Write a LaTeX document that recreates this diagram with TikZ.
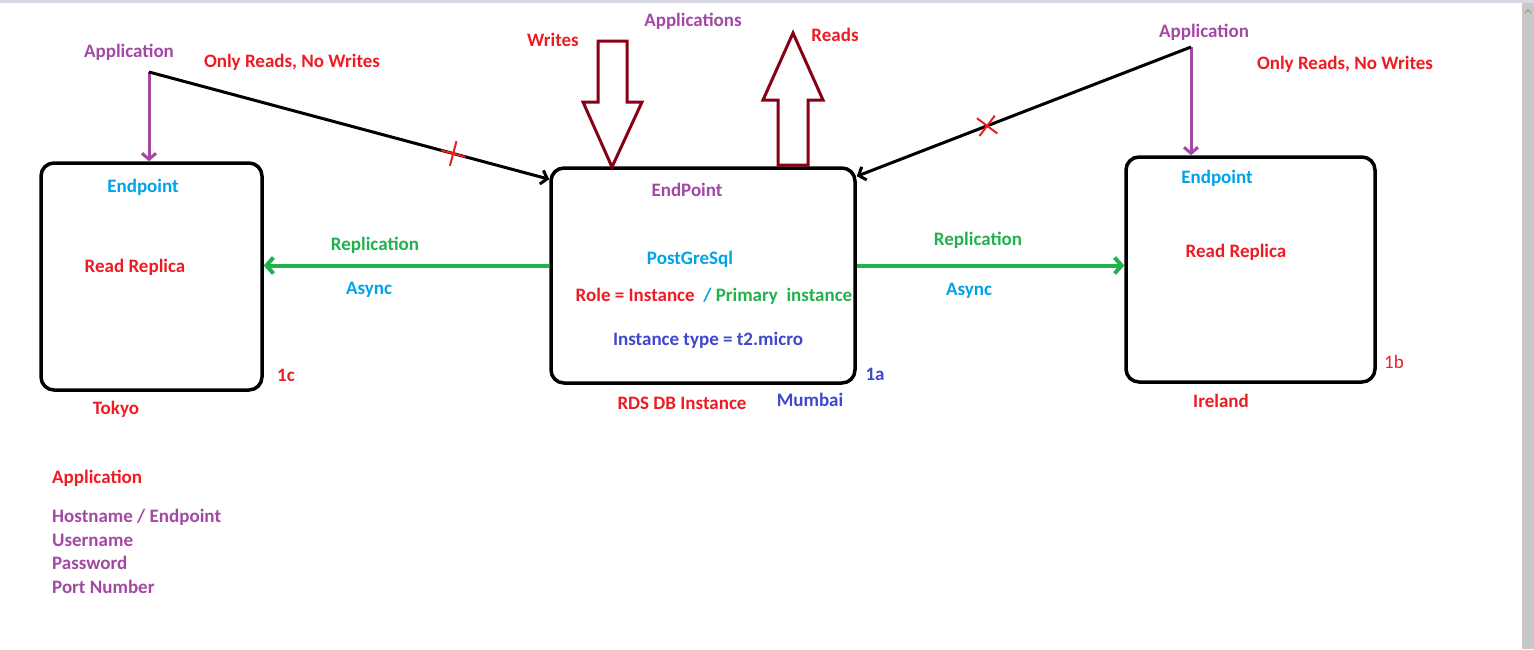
\documentclass[tikz,border=0pt]{standalone}
\usepackage{fontspec}
\setmainfont{Carlito}
\usepackage{tikz}
\usetikzlibrary{arrows.meta}
\usetikzlibrary{shapes.misc}
\definecolor{pRed}{HTML}{ED1C24}
\definecolor{pPurple}{HTML}{A349A4}
\definecolor{pCyan}{HTML}{00A2E8}
\definecolor{pGreen}{HTML}{22B14C}
\definecolor{pIndigo}{HTML}{3F48CC}
\definecolor{pMaroon}{HTML}{880015}
\definecolor{scrollGray}{HTML}{C8C8C8}
\definecolor{barBlue}{HTML}{D6D9E4}
\tikzstyle{diagram}=[x=1pt, y=-1pt, font=\fontsize{19}{22}\selectfont\bfseries]
\tikzstyle{box}=[rectangle, rounded corners=13pt, draw=black, line width=3.5pt, inner sep=0pt]
\tikzstyle{lbl}=[inner sep=1pt]
\tikzstyle{lft}=[inner sep=1pt, anchor=west]
\tikzstyle{appArrow}=[draw=pPurple, line width=3pt, -{Straight Barb[length=6pt,width=14pt]}]
\tikzstyle{reach}=[draw=black, line width=3pt, -{Straight Barb[length=6pt,width=14pt]}]
\tikzstyle{repl}=[draw=pGreen, line width=4pt, -{Straight Barb[length=7pt,width=16pt]}]
\tikzstyle{blocked}=[cross out, draw=pRed, line width=2pt, minimum size=16pt, inner sep=0pt]
\tikzstyle{block}=[draw=pMaroon, line width=3pt, line join=miter, fill=white]
\newcommand{\scrollX}{1522}

\begin{document}
\begin{tikzpicture}[diagram]
	\useasboundingbox (0,0) rectangle (1534,649);
	\fill[white] (0,0) rectangle (1534,649);
	\fill[barBlue] (0,0) rectangle (1534,3);
	%Scroll bar of the window
	\fill[scrollGray] (\scrollX,3) -- (1534,3) -- (1534,649) -- (\scrollX,649) -- cycle;
	\draw[black!45, line width=1pt] (1525,13) -- (1528,10) -- (1531,13);

	\node[box, minimum width=221pt, minimum height=227pt] (tokyo) at (151.5,276.5) {};
	\node[box, minimum width=304pt, minimum height=215pt] (rds) at (703,275.5) {};
	\node[box, minimum width=249pt, minimum height=225pt] (ireland) at (1250.5,269.5) {};

	%Tokyo replica
	\draw (143,187) node[lbl, text=pCyan] (tokyoEp) {Endpoint};
	\draw (135,267) node[lbl, text=pRed] (tokyoRr) {Read Replica};
	\draw (286,375) node[lbl, text=pRed] (tokyoAz) {1c};
	\draw (116,409) node[lbl, text=pRed] (tokyoReg) {Tokyo};

	%Primary instance
	\draw (687,190) node[lbl, text=pPurple] (rdsEp) {EndPoint};
	\draw (690,259) node[lbl, text=pCyan] (rdsEngine) {PostGreSql};
	\draw (714,296) node[lbl] (rdsRole) {{\color{pRed}Role = Instance} \ {\color{pCyan}/} {\color{pGreen}Primary\ \ instance}};
	\draw (708,340) node[lbl, text=pIndigo] (rdsType) {Instance type = t2.micro};
	\draw (875,374) node[lbl, text=pIndigo] (rdsAz) {1a};
	\draw (682,403) node[lbl, text=pRed] (rdsName) {RDS DB Instance};
	\draw (810,400) node[lbl, text=pIndigo] (rdsReg) {Mumbai};

	%Ireland replica
	\draw (1217,178) node[lbl, text=pCyan] (irelandEp) {Endpoint};
	\draw (1236,252) node[lbl, text=pRed] (irelandRr) {Read Replica};
	\draw (1394,362) node[lbl, text=pRed, font=\fontsize{19}{22}\selectfont\mdseries] (irelandAz) {1b};
	\draw (1221,401) node[lbl, text=pRed] (irelandReg) {Ireland};

	%Writes and reads on the primary
	\draw (553,40) node[lbl, text=pRed] (writes) {Writes};
	\draw (693,21) node[lbl, text=pPurple] (apps) {Applications};
	\draw (835,35) node[lbl, text=pRed] (reads) {Reads};
	\draw[block] (598,41) -- (627,41) -- (627,102) -- (642,102) -- (612,167) -- (583,102) -- (598,102) -- cycle;
	\draw[block] (778,165) -- (778,100) -- (763,100) -- (793,33) -- (823,100) -- (808,100) -- (808,165) -- cycle;

	%Replication
	\coordinate (rdsL) at ([yshift=10pt]rds.west);
	\coordinate (rdsR) at ([yshift=10pt]rds.east);
	\draw[repl] (rdsL) -- (rdsL -| tokyo.east);
	\draw[repl] (rdsR) -- (rdsR -| ireland.west);
	\draw (375,245) node[lbl, text=pGreen] (replL) {Replication};
	\draw (369,290) node[lbl, text=pCyan] (asyncL) {Async};
	\draw (978,240) node[lbl, text=pGreen] (replR) {Replication};
	\draw (969,291) node[lbl, text=pCyan] (asyncR) {Async};

	%Applications on the replicas
	\coordinate (appL) at (149,72);
	\draw (129,52) node[lbl, text=pPurple] (appLName) {Application};
	\draw (292,62) node[lbl, text=pRed] (appLNote) {Only Reads, No Writes};
	\draw[appArrow] (appL) -- (appL |- tokyo.north);
	\draw[reach] (appL) -- ([yshift=-13pt]rds.north west) node[blocked, pos=0.76, rotate=30] (noWriteL) {};

	\coordinate (appR) at (1191,47);
	\draw (1204,32) node[lbl, text=pPurple] (appRName) {Application};
	\draw (1345,64) node[lbl, text=pRed] (appRNote) {Only Reads, No Writes};
	\draw[appArrow] (appR) -- (appR |- ireland.north);
	\draw[reach] (appR) -- ([yshift=-10pt]rds.north east) node[blocked, pos=0.61, rotate=8] (noWriteR) {};

	%Connection details
	\draw (51,478) node[lft, text=pRed] (conn) {Application};
	\draw (51,517) node[lft, text=pPurple] (connHost) {Hostname / Endpoint};
	\draw (51,540) node[lft, text=pPurple] (connUser) {Username};
	\draw (51,563) node[lft, text=pPurple] (connPass) {Password};
	\draw (51,587) node[lft, text=pPurple] (connPort) {Port Number};
\end{tikzpicture}
\end{document}
